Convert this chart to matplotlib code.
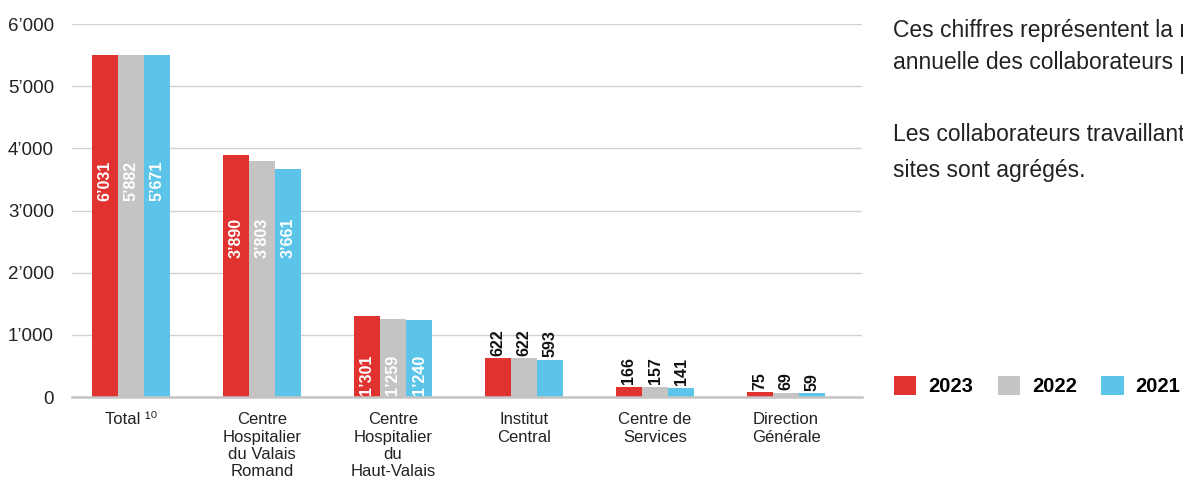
import matplotlib
matplotlib.use("Agg")
import matplotlib.pyplot as plt
import numpy as np

# ---- data ----
categories = ["Total \u00b9\u2070", "Centre\nHospitalier\ndu Valais\nRomand", "Centre\nHospitalier\ndu\nHaut-Valais",
              "Institut\nCentral", "Centre de\nServices", "Direction\nGénérale"]
years = ["2023", "2022", "2021"]
v2023 = [6031, 3890, 1301, 622, 166, 75]
v2022 = [5882, 3803, 1259, 622, 157, 69]
v2021 = [5671, 3661, 1240, 593, 141, 59]
yticks = [0, 1000, 2000, 3000, 4000, 5000, 6000]
ytick_labels = ["0", "1\u2019000", "2\u2019000", "3\u2019000", "4\u2019000", "5\u2019000", "6\u2019000"]

# ---- style / layout ----
colors = ["#E0322F", "#C4C4C4", "#5BC4E8"]
display_cap = 5500           # total bars drawn truncated in the original
inside_threshold = 1000
inside_label_center = {0: 3470, 1: 2560, 2: 350}

FONT = ["Liberation Sans", "DejaVu Sans"]
NARROW = ["Liberation Sans Narrow", "Liberation Sans", "DejaVu Sans"]
plt.rcParams["font.family"] = FONT

fig = plt.figure(figsize=(11.83, 4.88), dpi=100)
ax = fig.add_axes([72 / 1183, 1 - 397 / 488, (862 - 72) / 1183, (397 - 24) / 488])

x = np.arange(len(categories))
w = 0.2
series = [v2023, v2022, v2021]
bars = []
for i, (vals, c, yr) in enumerate(zip(series, colors, years)):
    vals = np.array(vals)
    shown = np.minimum(vals, display_cap)
    b = ax.bar(x + (i - 1) * w, shown, width=w, color=c, label=yr, zorder=3, linewidth=0)
    bars.append(b)
    for j, v in enumerate(vals):
        txt = f"{v:,}".replace(",", "\u2019")
        xc = x[j] + (i - 1) * w
        if v >= inside_threshold:
            ax.text(xc, inside_label_center[j], txt, rotation=90, ha="center", va="center",
                    color="white", fontsize=11.5, fontweight="bold", family=NARROW, zorder=4)
        else:
            ax.text(xc, v + 45, txt, rotation=90, ha="center", va="bottom",
                    color="#111111", fontsize=11.5, fontweight="bold", family=NARROW, zorder=4)

ax.set_xlim(-0.45, 5.58)
ax.set_ylim(0, 6000)
ax.set_yticks(yticks)
ax.set_yticklabels(ytick_labels, fontsize=13.5, color="#222222")
ax.set_xticks(x)
ax.set_xticklabels(categories, fontsize=12, color="#222222", linespacing=1.2,
                   family=["Liberation Sans", "DejaVu Sans"])
ax.tick_params(axis="both", length=0)
ax.tick_params(axis="y", pad=13)
ax.tick_params(axis="x", pad=11)

ax.grid(axis="y", color="#D2D2D2", linewidth=1, zorder=0)
for s in ["top", "right", "left"]:
    ax.spines[s].set_visible(False)
ax.spines["bottom"].set_color("#C4C4C4")
ax.spines["bottom"].set_linewidth(1.8)
ax.spines["bottom"].set_zorder(5)

# right-hand text (cut by the figure edge, as in the original)
para_lines = [
    (30, "Ces chiffres représentent la moyenne"),
    (62, "annuelle des collaborateurs par site."),
    (135, "Les collaborateurs travaillant sur plusieurs"),
    (170, "sites sont agrégés."),
]
for ypx, t in para_lines:
    fig.text(893 / 1183, 1 - ypx / 488, t, fontsize=16.5, color="#222222", va="center", ha="left")

leg = fig.legend(handles=bars, labels=years, loc="center left",
                 bbox_to_anchor=(894 / 1183, 1 - 386 / 488), ncol=3, frameon=False,
                 prop={"size": 14.5, "weight": "bold", "family": FONT},
                 handlelength=1.1, handleheight=1.1, handletextpad=0.6,
                 columnspacing=1.22, borderpad=0, borderaxespad=0)

fig.savefig("out.png", dpi=100)
